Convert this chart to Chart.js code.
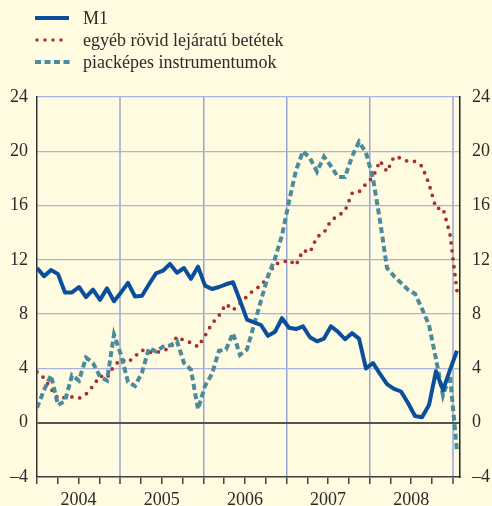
<!DOCTYPE html>
<html>
<head>
<meta charset="utf-8">
<script src="https://cdn.jsdelivr.net/npm/chart.js@4/dist/chart.umd.min.js"></script>
<style>
  html, body { margin: 0; padding: 0; background: #fffbe0; }
  #wrap { position: relative; width: 492px; height: 506px; background: #fffbe0; }
  #chart { position: absolute; left: 0; top: 0; }
  .legend { position: absolute; left: 35px; top: 7px; font: 18px 'Liberation Serif', 'Times New Roman', serif; color: #2b2b2b; }
  .legend div { display: flex; align-items: center; height: 22px; }
  .legend svg { width: 36px; height: 8px; margin-right: 12px; }
</style>
</head>
<body>
<div id="wrap">
  <canvas id="chart" width="492" height="506"></canvas>
  <div class="legend">
    <div><svg><line x1="0" y1="4" x2="34" y2="4" stroke="#0b4f9c" stroke-width="4"/></svg>M1</div>
    <div><svg><line x1="2" y1="4" x2="34" y2="4" stroke="#a83030" stroke-width="3.5" stroke-linecap="round" stroke-dasharray="0 8"/></svg>egyéb rövid lejáratú betétek</div>
    <div><svg><line x1="0" y1="4" x2="35" y2="4" stroke="#4b8b9b" stroke-width="4" stroke-dasharray="6 3.5"/></svg>piacképes instrumentumok</div>
  </div>
</div>
<script>
// monthly data, Jan 2004 .. Jan 2009
const years = [2004, 2005, 2006, 2007, 2008];
const yTicks = [-4, 0, 4, 8, 12, 16, 20, 24];

const m1 = [11.4, 10.8, 11.25, 10.95, 9.6, 9.6, 10.0, 9.25, 9.8, 9.05, 9.9, 8.95,
  9.6, 10.3, 9.3, 9.35, 10.2, 11.0, 11.2, 11.7, 11.05, 11.4, 10.6, 11.5,
  10.1, 9.85, 10.0, 10.2, 10.35, 9.0, 7.6, 7.4, 7.2, 6.4, 6.7, 7.7,
  7.0, 6.9, 7.1, 6.3, 6.0, 6.2, 7.1, 6.7, 6.15, 6.6, 6.2, 4.0,
  4.4, 3.6, 2.85, 2.5, 2.3, 1.45, 0.5, 0.4, 1.3, 3.8, 2.4, 3.9,
  5.3];

const otherDeposits = [3.75, 3.3, 2.5, 1.8, 1.85, 1.9, 1.8, 2.1, 2.7, 3.45, 3.3, 4.2,
  4.65, 4.45, 4.9, 5.35, 5.2, 5.15, 5.35, 5.45, 6.35, 6.05, 5.9, 5.6,
  6.4, 7.3, 7.9, 8.75, 8.3, 8.8, 9.3, 9.8, 10.1, 10.8, 11.7, 11.8,
  12.0, 11.6, 12.7, 12.55, 13.7, 14.0, 14.9, 15.25, 15.6, 16.9, 17.0, 17.6,
  18.1, 19.3, 18.5, 19.6, 19.5, 19.25, 19.25, 18.9, 17.6, 15.8, 15.8, 13.9,
  9.7];

const marketable = [1.1, 2.4, 3.5, 1.3, 1.6, 3.5, 3.1, 4.8, 4.4, 3.4, 3.1, 6.5,
  5.0, 3.0, 2.7, 3.7, 5.5, 5.25, 5.6, 5.7, 6.0, 4.4, 3.9, 1.0,
  2.7, 3.6, 5.3, 5.4, 6.6, 5.0, 5.4, 7.2, 9.0, 10.8, 12.1, 13.8,
  16.3, 18.6, 20.0, 19.5, 18.5, 19.6, 18.9, 18.1, 18.1, 19.6, 20.7, 19.9,
  18.0, 14.9, 11.4, 10.8, 10.3, 9.8, 9.5, 8.4, 7.2, 4.7, 2.0, 3.5,
  -2.1];

const yearLen = 11.88;   // one year on the x axis (month units)
const quarterTicks = [];
for (let q = 0; q <= years.length * 4; q++) quarterTicks.push(q * yearLen / 4);

const toPoints = arr => arr.map((v, i) => ({ x: i, y: v }));
const serif = { family: "'Liberation Serif', 'Times New Roman', serif", size: 18 };
const negLabel = v => (v < 0 ? '\u2013' + Math.abs(v) : String(v));

new Chart(document.getElementById('chart'), {
  type: 'line',
  data: {
    datasets: [
      {
        label: 'M1',
        data: toPoints(m1),
        borderColor: '#0b4f9c',
        borderWidth: 4,
        borderJoinStyle: 'round',
        pointRadius: 0,
        yAxisID: 'y'
      },
      {
        label: 'piacképes instrumentumok',
        data: toPoints(marketable),
        borderColor: '#4b8b9b',
        borderWidth: 4,
        borderDash: [6, 3.5],
        pointRadius: 0,
        yAxisID: 'y'
      },
      {
        label: 'egyéb rövid lejáratú betétek',
        data: toPoints(otherDeposits),
        borderColor: '#a83030',
        borderWidth: 3.8,
        borderDash: [0, 8],
        borderCapStyle: 'round',
        pointRadius: 0,
        yAxisID: 'y'
      }
    ]
  },
  options: {
    responsive: false,
    animation: false,
    layout: { padding: { top: 97, left: 0, right: 0, bottom: 0 } },
    plugins: { legend: { display: false }, tooltip: { enabled: false } },
    scales: {
      x: {
        type: 'linear',
        min: 0,
        max: 60.43,
        afterBuildTicks: scale => { scale.ticks = quarterTicks.map(v => ({ value: v })); },
        afterFit: scale => { scale.height = 29; },
        grid: {
          color: ctx => (ctx.index > 0 && ctx.index % 4 === 0)
            ? ((ctx.index === 4 || ctx.index === 20) ? '#b3bbd6' : '#98a4d9')
            : 'rgba(0,0,0,0)',
          lineWidth: ctx => (ctx.index === 4 || ctx.index === 20) ? 2 : 1.5,
          tickColor: '#444',
          tickWidth: 1.5,
          tickLength: 7
        },
        border: { display: true, color: '#444', width: 1.5 },
        ticks: {
          autoSkip: false,
          maxRotation: 0,
          padding: 5,
          color: '#2b2b2b',
          font: serif,
          callback: (v, i) => (i % 4 === 2 ? String(years[(i - 2) / 4]) : '')
        }
      },
      y: {
        position: 'left',
        min: -4,
        max: 24,
        afterBuildTicks: scale => { scale.ticks = yTicks.map(v => ({ value: v })); },
        afterFit: scale => { scale.width = 37; },
        grid: {
          color: ctx => (ctx.tick && ctx.tick.value === 0 ? '#555' : '#a9b3de'),
          lineWidth: ctx => (ctx.tick && ctx.tick.value === 0 ? 2 : 1.3),
          drawTicks: false
        },
        border: { display: true, color: '#333', width: 1.5 },
        ticks: { padding: 9, color: '#2b2b2b', font: serif, callback: negLabel }
      },
      y2: {
        position: 'right',
        min: -4,
        max: 24,
        afterBuildTicks: scale => { scale.ticks = yTicks.map(v => ({ value: v })); },
        afterFit: scale => { scale.width = 32; },
        grid: { drawOnChartArea: false, drawTicks: false },
        border: { display: true, color: '#222', width: 1.5 },
        ticks: { padding: 12, color: '#2b2b2b', font: serif, callback: negLabel }
      }
    }
  }
});
</script>
</body>
</html>
